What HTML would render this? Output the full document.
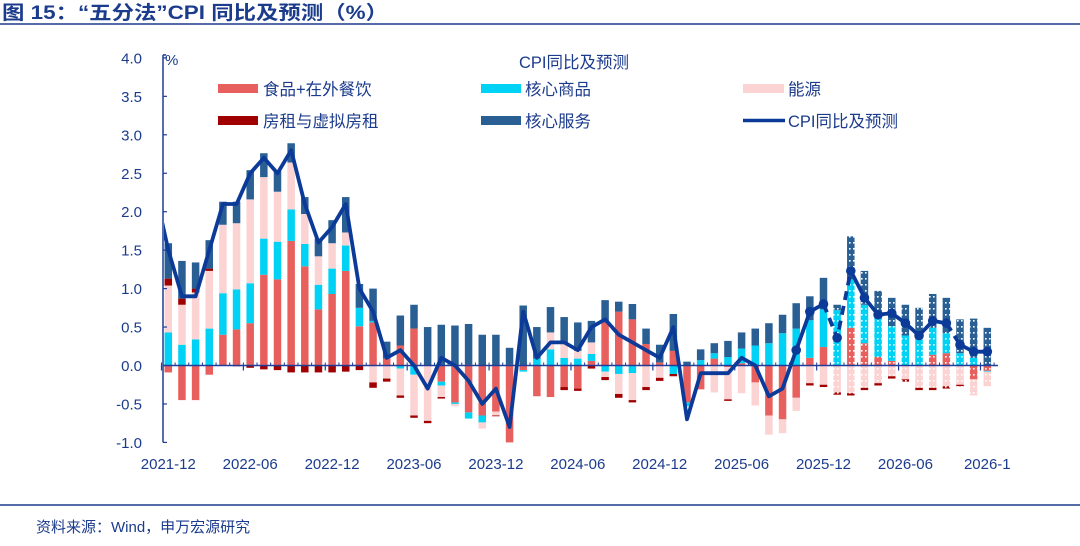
<!DOCTYPE html>
<html><head><meta charset="utf-8">
<style>
body{margin:0;background:#fff;width:1080px;height:541px;overflow:hidden;font-family:"Liberation Sans","Noto Sans CJK SC",sans-serif;}
svg text{font-family:"Liberation Sans","Noto Sans CJK SC",sans-serif;}
</style></head>
<body>
<svg id="chart" width="1080" height="541" viewBox="0 0 1080 541" xmlns="http://www.w3.org/2000/svg">
<defs>
<pattern id="pf" width="4" height="6" patternUnits="userSpaceOnUse"><rect width="4" height="6" fill="#e8605e"/><rect x="1" y="2" width="1.6" height="1.6" fill="#fff"/></pattern>
<pattern id="pg" width="4" height="6" patternUnits="userSpaceOnUse"><rect width="4" height="6" fill="#00d2f5"/><rect x="1" y="2" width="1.6" height="1.6" fill="#fff"/></pattern>
<pattern id="pe" width="4" height="6" patternUnits="userSpaceOnUse"><rect width="4" height="6" fill="#fbd3d3"/><rect x="1" y="2" width="1.6" height="1.6" fill="#fff"/></pattern>
<pattern id="pr" width="4" height="6" patternUnits="userSpaceOnUse"><rect width="4" height="6" fill="#a00000"/><rect x="1" y="2" width="1.6" height="1.6" fill="#fff"/></pattern>
<pattern id="ps" width="4" height="6" patternUnits="userSpaceOnUse"><rect width="4" height="6" fill="#2a5f94"/><rect x="1" y="2" width="1.6" height="1.6" fill="#fff"/></pattern>
<clipPath id="plotclip"><rect x="164" y="40" width="850" height="420"/></clipPath>
</defs>
<text x="2" y="19" font-size="19" font-weight="bold" fill="#1b3b8c" style="font-family:'Liberation Sans','Noto Sans CJK SC',sans-serif" textLength="386" lengthAdjust="spacingAndGlyphs">图 15：“五分法”CPI 同比及预测（%）</text>
<line x1="0" y1="24" x2="1080" y2="24" stroke="#1b3b8c" stroke-width="1.5"/>
<line x1="0" y1="505" x2="1080" y2="505" stroke="#1b3b8c" stroke-width="1.5"/>
<text x="36" y="532" font-size="15" fill="#1b3b8c">资料来源：Wind，申万宏源研究</text>

<g id="legend">
<text x="519" y="68" font-size="16.5" fill="#1b3b8c">CPI同比及预测</text>
<g><rect x="218" y="84" width="40" height="9" fill="#e8605e"/><text x="263" y="95" font-size="16.5" fill="#1b3b8c">食品+在外餐饮</text></g>
<g><rect x="481" y="84" width="40" height="9" fill="#00d2f5"/><text x="525" y="95" font-size="16.5" fill="#1b3b8c">核心商品</text></g>
<g><rect x="743" y="84" width="41" height="9" fill="#fbd3d3"/><text x="788" y="95" font-size="16.5" fill="#1b3b8c">能源</text></g>
<g><rect x="218" y="116" width="40" height="9" fill="#a00000"/><text x="263" y="127" font-size="16.5" fill="#1b3b8c">房租与虚拟房租</text></g>
<g><rect x="481" y="116" width="40" height="9" fill="#2a5f94"/><text x="525" y="127" font-size="16.5" fill="#1b3b8c">核心服务</text></g>
<g><line x1="743" y1="120.5" x2="785" y2="120.5" stroke="#0b3a99" stroke-width="3.5"/><text x="788" y="127" font-size="16.5" fill="#1b3b8c">CPI同比及预测</text></g>
</g>
<g id="bars"></g>
<g id="axes"></g>
<g id="line" clip-path="url(#plotclip)"></g>
</svg>
<script>
const months = ["2021-12","2022-01","2022-02","2022-03","2022-04","2022-05","2022-06","2022-07","2022-08","2022-09","2022-10","2022-11","2022-12","2023-01","2023-02","2023-03","2023-04","2023-05","2023-06","2023-07","2023-08","2023-09","2023-10","2023-11","2023-12","2024-01","2024-02","2024-03","2024-04","2024-05","2024-06","2024-07","2024-08","2024-09","2024-10","2024-11","2024-12","2025-01","2025-02","2025-03","2025-04","2025-05","2025-06","2025-07","2025-08","2025-09","2025-10","2025-11","2025-12","2026-01","2026-02","2026-03","2026-04","2026-05","2026-06","2026-07","2026-08","2026-09","2026-10","2026-11","2026-12"];
const food = [-0.09,-0.45,-0.45,-0.12,0.40,0.47,0.55,1.18,1.12,1.62,1.29,0.73,0.93,1.23,0.51,0.56,0.09,0.26,0.48,0,-0.21,-0.48,-0.61,-0.65,-0.60,-1.00,-0.06,-0.40,-0.41,-0.28,-0.30,0.06,0.56,0.70,0.60,0.28,0.04,0.19,-0.48,-0.31,0.09,-0.02,0.03,-0.22,-0.65,-0.70,-0.42,0.10,0.24,0,0.49,0.29,0.11,0.06,0,0,0.14,0.16,0,-0.18,-0.07];
const coreGoods = [0.43,0.27,0.34,0.48,0.54,0.52,0.52,0.47,0.49,0.41,0.29,0.32,0.33,0.33,0.24,0.02,0,-0.04,-0.12,0,-0.05,-0.02,-0.08,-0.09,0,0,-0.02,0.09,0.21,0.10,0.09,0.09,-0.08,-0.11,-0.10,0,0,-0.11,-0.05,0.07,0.07,0.11,0.19,0.26,0.29,0.42,0.48,0.49,0.49,0.72,0.63,0.50,0.51,0.45,0.39,0.34,0.35,0.26,0.16,0.10,-0.01];
const energy = [0.61,0.52,0.61,0.75,0.89,0.86,1.09,0.80,0.65,0.61,0.39,0.37,0.33,0.17,0,-0.22,-0.17,-0.35,-0.53,-0.72,-0.15,-0.03,0,-0.08,-0.05,0,0,0,0.22,0.18,0.10,0.15,-0.07,-0.26,-0.35,-0.28,-0.16,0,0,0,-0.35,-0.42,-0.36,-0.30,-0.25,-0.18,-0.17,-0.23,-0.25,-0.35,-0.36,-0.29,-0.23,-0.14,-0.18,-0.29,-0.29,-0.27,-0.25,-0.21,-0.19];
const rent = [0.09,0.08,0.05,0.03,0,-0.01,-0.03,-0.05,-0.06,-0.09,-0.09,-0.09,-0.09,-0.08,-0.06,-0.07,-0.04,-0.03,-0.03,-0.03,-0.02,0,0.01,0,-0.01,0.01,0,0,0,-0.04,-0.03,-0.04,-0.04,-0.05,-0.03,-0.04,-0.04,-0.03,0,0,0,-0.02,0,0,0,0,0,-0.03,-0.03,-0.03,-0.03,-0.03,-0.03,-0.03,-0.03,-0.03,-0.03,-0.03,-0.02,0,0];
const coreServices = [0.46,0.49,0.34,0.37,0.30,0.28,0.38,0.31,0.27,0.25,0.22,0.23,0.30,0.46,0.31,0.42,0.22,0.39,0.31,0.50,0.53,0.52,0.53,0.40,0.40,0.22,0.78,0.41,0.33,0.35,0.37,0.28,0.29,0.13,0.20,0.20,0.23,0.48,0.05,0.14,0.13,0.21,0.21,0.22,0.26,0.24,0.33,0.31,0.41,0.07,0.56,0.44,0.35,0.37,0.40,0.41,0.44,0.46,0.44,0.51,0.49];
const cpiPrev = 2.3; // 2021-11 value (line enters from left edge)
const cpi = [1.5,0.9,0.9,1.5,2.1,2.1,2.5,2.7,2.5,2.8,2.1,1.6,1.8,2.1,1.0,0.7,0.1,0.2,0.0,-0.3,0.1,0.0,-0.2,-0.5,-0.3,-0.8,0.7,0.1,0.3,0.3,0.2,0.5,0.6,0.4,0.3,0.2,0.1,0.5,-0.7,-0.1,-0.1,-0.1,0.1,0.0,-0.4,-0.3,0.2,0.7,0.8,0.36,1.23,0.88,0.66,0.68,0.55,0.39,0.58,0.55,0.27,0.18,0.18];
const yTicks = [4.0,3.5,3.0,2.5,2.0,1.5,1.0,0.5,0.0,-0.5,-1.0];
const xLabels = ["2021-12","2022-06","2022-12","2023-06","2023-12","2024-06","2024-12","2025-06","2025-12","2026-06","2026-1"];
const xLabelIdx = [0,6,12,18,24,30,36,42,48,54,60];
const forecastStart = 49;

const NS="http://www.w3.org/2000/svg";
const X0=168.3, DX=13.65, Y0=365.5, KY=76.9, AXX=163;
function xs(i){return X0+i*DX;}
function ys(v){return Y0-v*KY;}
function mk(tag,attrs,parent){const e=document.createElementNS(NS,tag);for(const k in attrs)e.setAttribute(k,attrs[k]);parent.appendChild(e);return e;}
const navy="#1b3b8c", axc="#1f3d99";
const barsG=document.getElementById('bars'), axG=document.getElementById('axes'), lineG=document.getElementById('line');
const series=[{arr:food,c:"#e8605e",p:"pf",n:"food"},{arr:coreGoods,c:"#00d2f5",p:"pg",n:"core-goods"},{arr:energy,c:"#fbd3d3",p:"pe",n:"energy"},{arr:rent,c:"#a00000",p:"pr",n:"rent"},{arr:coreServices,c:"#2a5f94",p:"ps",n:"core-services"}];
const BW=7.5;
months.forEach((m,i)=>{
  let pos=0,neg=0;
  series.forEach(s=>{
    const v=s.arr[i]; if(!v) return;
    let a,b;
    if(v>0){a=pos;b=pos+v;pos=b;}else{a=neg;b=neg+v;neg=b;}
    const r=mk('rect',{x:xs(i)-BW/2,y:Math.min(ys(a),ys(b)),width:BW,height:Math.abs(ys(a)-ys(b)),fill:i>=forecastStart?'url(#'+s.p+')':s.c},barsG);
    
    
  });
});
let e;
e=mk('line',{x1:AXX,y1:ys(4.0)-3,x2:AXX,y2:ys(-1.0),stroke:axc,'stroke-width':1.5},axG);

mk('line',{x1:AXX,y1:ys(4.0)-3,x2:AXX+3,y2:ys(4.0)-3,stroke:axc,'stroke-width':1.5},axG);
yTicks.forEach(t=>{
  mk('line',{x1:AXX,y1:ys(t),x2:AXX+4,y2:ys(t),stroke:axc,'stroke-width':1.2},axG);
  const tx=mk('text',{x:142,y:ys(t)+5.5,'font-size':15,fill:navy,'text-anchor':'end'},axG);
  tx.textContent=t.toFixed(1);
  
});
e=mk('text',{x:165,y:ys(4.0)+7,'font-size':15,fill:navy},axG);e.textContent='%';

e=mk('line',{x1:AXX,y1:Y0,x2:xs(61)-3,y2:Y0,stroke:axc,'stroke-width':1.5},axG);

for(let i=0;i<=61;i++){const x=xs(i)-DX/2;mk('line',{x1:x,y1:Y0,x2:x,y2:Y0-3,stroke:axc,'stroke-width':1},axG);}
xLabelIdx.forEach((idx,k)=>{
  const x=xs(idx)-DX/2;
  mk('line',{x1:x,y1:Y0,x2:x,y2:Y0+5,stroke:axc,'stroke-width':1.2},axG);
  const tx=mk('text',{x:xs(idx),y:469,'font-size':15,fill:navy,'text-anchor':'middle'},axG);
  tx.textContent=xLabels[k];
  
});
const lc="#0b3a99";
function seg(i0,i1,dash){
  const pts=[];
  for(let i=i0;i<=i1;i++){pts.push((i<0?xs(-1):xs(i)).toFixed(1)+','+ys(i<0?cpiPrev:cpi[i]).toFixed(1));}
  const p=mk('polyline',{points:pts.join(' '),fill:'none',stroke:lc,'stroke-width':3.8,'stroke-linejoin':'round'},lineG);
  if(dash)p.setAttribute('stroke-dasharray','9,6');
  
  
}
seg(-1,48,false);
seg(48,50,true);
seg(50,57,false);
seg(57,58,true);
seg(58,60,false);
for(let i=46;i<=60;i++){
  const c=mk('circle',{cx:xs(i),cy:ys(cpi[i]),r:4.8,fill:lc},lineG);
  
  
}
</script>
</body></html>
